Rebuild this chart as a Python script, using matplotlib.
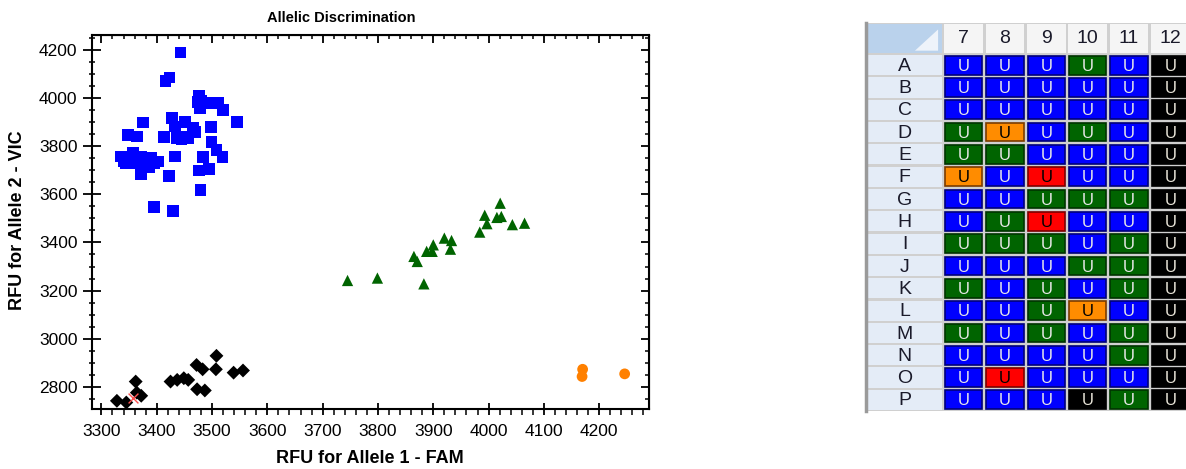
import matplotlib
matplotlib.use('Agg')
import matplotlib.pyplot as plt
from matplotlib.patches import Rectangle, Polygon
from matplotlib.ticker import MultipleLocator

plt.rcParams['font.family'] = ['Liberation Sans Narrow', 'Liberation Sans', 'DejaVu Sans']

# ---------------- scatter data ----------------
blue_x = [3443, 3423, 3416, 3476, 3475, 3478, 3496, 3511, 3520, 3545, 3375, 3427,
          3433, 3451, 3466, 3448, 3498, 3348, 3364, 3413, 3436, 3457, 3499, 3508,
          3519, 3433, 3483, 3477, 3495, 3422, 3479, 3395, 3429, 3336, 3345, 3357,
          3357, 3372, 3375, 3371, 3390, 3402, 3387, 3350, 3365, 3380, 3395, 3340,
          3445, 3470, 3480]
blue_y = [4189, 4085, 4071, 4007, 3985, 3960, 3979, 3979, 3951, 3902, 3898, 3916,
          3882, 3902, 3875, 3840, 3879, 3847, 3840, 3837, 3833, 3833, 3819, 3785,
          3754, 3757, 3754, 3699, 3706, 3675, 3618, 3546, 3530, 3757, 3729, 3771,
          3729, 3757, 3715, 3685, 3750, 3736, 3715, 3750, 3745, 3735, 3730, 3740,
          3830, 3860, 3990]

black_x = [3328, 3345, 3362, 3364, 3372, 3425, 3437, 3449, 3457, 3472, 3483, 3473,
           3487, 3508, 3507, 3539, 3556]
black_y = [2742, 2735, 2822, 2776, 2763, 2822, 2829, 2836, 2829, 2891, 2873, 2790,
           2785, 2929, 2873, 2859, 2868]

green_x = [3745, 3799, 3883, 3865, 3871, 3888, 3900, 3898, 3920, 3933, 3931, 3984,
           3993, 3997, 4015, 4023, 4021, 4043, 4065]
green_y = [3242, 3252, 3228, 3342, 3321, 3363, 3390, 3363, 3418, 3408, 3372, 3443,
           3513, 3478, 3504, 3508, 3563, 3474, 3480]

orange_x = [4170, 4169, 4246]
orange_y = [2873, 2843, 2854]

undet_x = [3357]
undet_y = [2753]

# ---------------- plate data ----------------
plate_cols = ['7', '8', '9', '10', '11', '12']
plate_rows = list('ABCDEFGHIJKLMNOP')
plate_calls = [
    'BBBGBK', 'BBBBBK', 'BBBBBK', 'GOBGBK', 'GGBBBK', 'OBRBBK', 'BBGGGK', 'BGRBBK',
    'GGGBGK', 'BBBGGK', 'GBGBGK', 'BBGOBK', 'GBGBGK', 'BBBBGK', 'BRBBBK', 'BBBKGK',
]
call_fill = {'B': '#0000ff', 'G': '#006400', 'K': '#000000', 'O': '#ff8c00', 'R': '#ff0000'}
call_edge = {'B': '#00007a', 'G': '#003300', 'K': '#000000', 'O': '#7a3c00', 'R': '#7a0000'}
call_text = {'B': '#e8e8e8', 'G': '#e8e8e8', 'K': '#e8e4d8', 'O': '#000000', 'R': '#000000'}

W, H = 1186, 469
fig = plt.figure(figsize=(W / 100, H / 100), dpi=100)

# ---------------- scatter plot ----------------
ax = fig.add_axes([92 / W, 60 / H, 557 / W, 374 / H])
ax.scatter(blue_x, blue_y, marker='s', s=72, color='#0000ff', edgecolors='none', zorder=3)
ax.scatter(black_x, black_y, marker='D', s=50, color='#000000', edgecolors='none', zorder=3)
ax.scatter(green_x, green_y, marker='^', s=66, color='#006400', edgecolors='none', zorder=3)
ax.scatter(orange_x, orange_y, marker='o', s=60, color='#ff8000', edgecolors='none', zorder=3)
ax.scatter(undet_x, undet_y, marker='x', s=50, color='#ff5050', linewidths=1.0, zorder=4)

ax.set_xlim(3283, 4290)
ax.set_ylim(2708, 4262)
ax.xaxis.set_major_locator(MultipleLocator(100))
ax.xaxis.set_minor_locator(MultipleLocator(20))
ax.yaxis.set_major_locator(MultipleLocator(200))
ax.yaxis.set_minor_locator(MultipleLocator(50))
for s in ax.spines.values():
    s.set_linewidth(1.5)
    s.set_color('black')
ax.tick_params(axis='x', which='major', direction='inout', length=9, width=1.3,
               labelsize=12.5, pad=6)
ax.tick_params(axis='x', which='minor', direction='out', length=4, width=1.1)
ax.tick_params(axis='y', which='major', direction='inout', length=13, width=1.3,
               labelsize=12.5, pad=4)
ax.tick_params(axis='y', which='minor', direction='inout', length=5, width=1.1)

sx = ax.secondary_xaxis('top')
sx.xaxis.set_major_locator(MultipleLocator(100))
sx.xaxis.set_minor_locator(MultipleLocator(20))
sx.tick_params(which='major', direction='in', length=6, width=1.3, labeltop=False)
sx.tick_params(which='minor', direction='in', length=3, width=1.1)
sy = ax.secondary_yaxis('right')
sy.yaxis.set_major_locator(MultipleLocator(200))
sy.yaxis.set_minor_locator(MultipleLocator(50))
sy.tick_params(which='major', direction='in', length=6, width=1.3, labelright=False)
sy.tick_params(which='minor', direction='in', length=3, width=1.1)

fig.text(341 / W, 1 - 18 / H, 'Allelic Discrimination', ha='center', va='center',
         fontsize=10.5, fontweight='bold')
fig.text(370 / W, 1 - 458 / H, 'RFU for Allele 1 - FAM', ha='center', va='center',
         fontsize=13, fontweight='bold')
fig.text(18 / W, 1 - 220 / H, 'RFU for Allele 2 - VIC', ha='center', va='center',
         rotation=90, fontsize=13, fontweight='bold')

# ---------------- plate grid ----------------
hw = 77 / 41.3     # header column width in cell units
hh = 31 / 22.3     # header row height in cell units
tx = fig.add_axes([866 / W, (H - 411) / H, 320 / W, 388 / H])
tx.set_xlim(-hw, 5.88)
tx.set_ylim(len(plate_rows), -hh)
tx.axis('off')
tx.add_patch(Rectangle((-hw, -hh), hw + 7, len(plate_rows) + hh, facecolor='#d0d0d0',
                       edgecolor='none', zorder=0))
gx, gy = 0.03, 0.05
# header corner
tx.add_patch(Rectangle((-hw + gx, -hh + gy), hw - 2 * gx, hh - 2 * gy,
                       facecolor='#bad2ec', edgecolor='none', zorder=1))
tx.add_patch(Polygon([(-0.12, -0.15), (-0.68, -0.15), (-0.12, -1.1)], closed=True,
                     facecolor='#eef3fa', edgecolor='none', zorder=2))
# column header
for j, c in enumerate(plate_cols):
    tx.add_patch(Rectangle((j + gx, -hh + gy), 1 - 2 * gx, hh - 2 * gy,
                           facecolor='#f5f5f5', edgecolor='none', zorder=1))
    tx.text(j + 0.5, -hh / 2, c, ha='center', va='center', fontsize=14,
            family=['Liberation Sans', 'DejaVu Sans'], color='#1a1a2a', zorder=3)
# rows
for i, r in enumerate(plate_rows):
    tx.add_patch(Rectangle((-hw + gx, i + gy), hw - 2 * gx, 1 - 2 * gy,
                           facecolor='#e4ecf7', edgecolor='none', zorder=1))
    tx.text(-hw / 2, i + 0.55, r, ha='center', va='center', fontsize=14,
            family=['Liberation Sans', 'DejaVu Sans'], color='#1a1a2a', zorder=3)
    for j, call in enumerate(plate_calls[i]):
        tx.add_patch(Rectangle((j + 0.05, i + 0.08), 0.9, 0.84,
                               facecolor=call_fill[call], edgecolor=call_edge[call],
                               linewidth=1.2, zorder=2))
        tx.text(j + 0.5, i + 0.55, 'U', ha='center', va='center', fontsize=12,
                family=['Liberation Sans', 'DejaVu Sans'], color=call_text[call], zorder=3)
# left border
tx.plot([-hw, -hw], [-hh, len(plate_rows)], color='#9a9a9a', lw=2.5, zorder=4,
        clip_on=False)

fig.savefig('out.png', dpi=100, facecolor='white')
